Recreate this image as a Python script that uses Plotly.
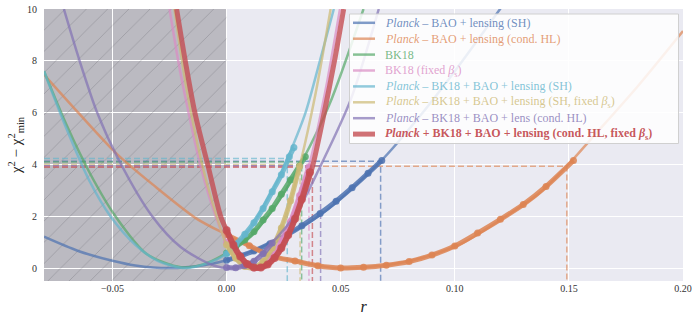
import plotly.graph_objects as go

# ---------------- axes / ticks ----------------
X_RANGE = [-0.08, 0.20]
Y_RANGE = [-0.5, 10.0]
excluded_r = [-0.08, 0.0]

x_tickvals = [-0.05, 0.0, 0.05, 0.10, 0.15, 0.20]
x_ticktext = ["\u22120.05", "0.00", "0.05", "0.10", "0.15", "0.20"]
y_tickvals = [0, 2, 4, 6, 8, 10]
y_ticktext = ["0", "2", "4", "6", "8", "10"]

# ---------------- series labels / colours ----------------
labels = [
    "<i>Planck</i> \u2013 BAO + lensing (SH)",
    "<i>Planck</i> \u2013 BAO + lensing (cond. HL)",
    "BK18",
    "BK18 (fixed <i>\u03b2</i><sub>s</sub>)",
    "<i>Planck</i> \u2013 BK18 + BAO + lensing (SH)",
    "<i>Planck</i> \u2013 BK18 + BAO + lensing (SH, fixed <i>\u03b2</i><sub>s</sub>)",
    "<i>Planck</i> \u2013 BK18 + BAO + lens (cond. HL)",
    "<b><i>Planck</i> + BK18 + BAO + lensing (cond. HL, fixed <i>\u03b2</i><sub>s</sub>)</b>",
]
colors = ["#4C72B0", "#DD8452", "#55A868", "#DA8BC3",
          "#64B5CD", "#CCB974", "#8172B3", "#C44E52"]

# ---------------- profile curves (r, delta chi2) ----------------
blue_r = [-0.08, -0.065, -0.05, -0.04, -0.025, -0.01, 0.0, 0.0193, 0.0412, 0.0675, 0.085, 0.10, 0.1215]
blue_d = [1.21, 0.66, 0.28, 0.10, 0.0, 0.11, 0.30, 0.97, 2.06, 4.12, 5.9, 7.6, 10.2]
orange_r = [-0.08, -0.065, -0.048, -0.032, -0.013, 0.0, 0.0105, 0.0178, 0.0325, 0.048, 0.0675,
            0.0855, 0.1035, 0.1224, 0.1371, 0.1491, 0.1596, 0.18, 0.20]
orange_d = [7.47, 6.0, 4.4, 3.2, 1.9, 1.29, 0.84, 0.51, 0.23, 0.0, 0.09,
            0.39, 0.97, 2.0, 2.9, 3.93, 4.97, 7.0, 9.15]
green_r = [-0.08, -0.07, -0.06, -0.0487, -0.035, -0.02, -0.01, 0.0, 0.0107, 0.0222, 0.0329, 0.045, 0.06]
green_d = [7.6, 5.5, 3.68, 2.0, 0.54, 0.03, 0.15, 0.58, 1.25, 2.5, 4.09, 6.3, 10.0]
pink_r = [-0.025, -0.0212, -0.0188, -0.0113, -0.0048, 0.0, 0.006, 0.0115, 0.018, 0.025, 0.0361, 0.043, 0.0497]
pink_d = [10.0, 8.0, 6.9, 3.9, 2.0, 1.0, 0.23, 0.0, 0.28, 1.2, 3.95, 6.7, 10.0]
cyan_r = [-0.08, -0.07, -0.06, -0.0509, -0.04, -0.03, -0.018, -0.008, 0.0, 0.0105, 0.0178,
          0.0228, 0.028, 0.0346, 0.0409, 0.047]
cyan_d = [7.6, 5.35, 3.35, 2.0, 0.9, 0.27, 0.0, 0.2, 0.55, 1.55, 2.64,
          3.45, 4.5, 6.0, 8.0, 10.0]
khaki_r = [-0.023, -0.0177, -0.011, -0.0075, 0.0, 0.005, 0.0105, 0.016, 0.022, 0.027, 0.0322, 0.039, 0.0456]
khaki_d = [10.1, 7.0, 4.1, 2.92, 0.9, 0.27, 0.0, 0.26, 1.12, 2.31, 4.0, 6.74, 10.0]
purple_r = [-0.0713, -0.0644, -0.0567, -0.0474, -0.0326, -0.02, -0.0057, 0.002, 0.01, 0.0184,
            0.03, 0.0412, 0.0544, 0.0667]
purple_d = [10.0, 8.0, 6.0, 4.2, 2.0, 0.8, 0.1, 0.0, 0.18, 0.84,
            2.04, 3.95, 6.5, 10.0]
red_r = [-0.0219, -0.0181, -0.0139, -0.008, -0.0026, 0.0, 0.005, 0.0095, 0.0135, 0.018,
         0.023, 0.028, 0.0325, 0.0376, 0.0428, 0.0473, 0.0513]
red_d = [10.0, 8.0, 6.0, 3.9, 2.0, 1.46, 0.58, 0.13, 0.0, 0.14,
         0.63, 1.47, 2.5, 3.9, 6.0, 8.0, 10.0]

# ---------------- sampled points (r >= 0) ----------------
blue_dot_r = [0.0, 0.006, 0.012, 0.019, 0.026, 0.033, 0.041, 0.048, 0.055, 0.062, 0.068]
blue_dot_d = [0.30, 0.47, 0.66, 0.94, 1.26, 1.63, 2.11, 2.58, 3.10, 3.66, 4.15]
orange_dot_r = [0.0, 0.01, 0.02, 0.03, 0.04, 0.05, 0.06, 0.07, 0.08, 0.09, 0.10, 0.11, 0.12, 0.13, 0.14, 0.152]
orange_dot_d = [1.29, 0.86, 0.45, 0.27, 0.09, 0.0, 0.03, 0.11, 0.25, 0.5, 0.85, 1.35, 1.88, 2.45, 3.15, 4.15]
green_dot_r = [0.0, 0.004, 0.008, 0.012, 0.016, 0.02, 0.024, 0.028, 0.032, 0.0345]
green_dot_d = [0.58, 0.82, 1.08, 1.4, 1.85, 2.3, 2.85, 3.4, 3.95, 4.3]
pink_dot_r = [0.0, 0.004, 0.008, 0.012, 0.016, 0.02, 0.024, 0.028, 0.032, 0.036]
pink_dot_d = [1.0, 0.42, 0.09, 0.0, 0.13, 0.48, 1.06, 1.8, 2.8, 3.9]
cyan_dot_r = [0.0, 0.004, 0.008, 0.012, 0.016, 0.02, 0.024, 0.0275, 0.0295]
cyan_dot_d = [0.55, 0.92, 1.3, 1.75, 2.3, 2.95, 3.6, 4.3, 4.65]
khaki_dot_r = [0.0, 0.004, 0.008, 0.012, 0.016, 0.02, 0.024, 0.028, 0.032]
khaki_dot_d = [0.9, 0.38, 0.06, 0.02, 0.26, 0.77, 1.55, 2.6, 3.93]
purple_dot_r = [0.0, 0.004, 0.008, 0.012, 0.016, 0.02]
purple_dot_d = [0.02, 0.01, 0.1, 0.26, 0.55, 0.97]
red_dot_r = [0.0, 0.003, 0.006, 0.009, 0.012, 0.015, 0.018, 0.021, 0.024, 0.027, 0.030, 0.033, 0.0365]
red_dot_d = [1.46, 0.89, 0.45, 0.16, 0.02, 0.02, 0.14, 0.39, 0.77, 1.28, 1.9, 2.66, 3.7]

# ---------------- 95% upper limits ----------------
limit_r = [0.0675, 0.1491, 0.0329, 0.0361, 0.0266, 0.0322, 0.0412, 0.0376]
limit_d = [4.12, 3.93, 4.09, 3.95, 4.23, 4.00, 3.95, 3.89]

curves = [(blue_r, blue_d), (orange_r, orange_d), (green_r, green_d), (pink_r, pink_d),
          (cyan_r, cyan_d), (khaki_r, khaki_d), (purple_r, purple_d), (red_r, red_d)]
dots = [(blue_dot_r, blue_dot_d), (orange_dot_r, orange_dot_d), (green_dot_r, green_dot_d),
        (pink_dot_r, pink_dot_d), (cyan_dot_r, cyan_dot_d), (khaki_dot_r, khaki_dot_d),
        (purple_dot_r, purple_dot_d), (red_dot_r, red_dot_d)]


def rgba(hexc, a):
    h = hexc.lstrip("#")
    return "rgba(%d,%d,%d,%.2f)" % (int(h[0:2], 16), int(h[2:4], 16), int(h[4:6], 16), a)


FONT = "Liberation Serif, DejaVu Serif, serif"
fig = go.Figure()

# hatched excluded region (r < 0)
fig.add_trace(go.Scatter(
    x=[excluded_r[0], excluded_r[1], excluded_r[1], excluded_r[0], excluded_r[0]],
    y=[Y_RANGE[0], Y_RANGE[0], Y_RANGE[1], Y_RANGE[1], Y_RANGE[0]],
    mode="lines", fill="toself", fillcolor="rgba(0,0,0,0)",
    fillpattern=dict(shape="/", fgcolor="rgba(70,70,80,0.5)", bgcolor="rgba(0,0,0,0)",
                     size=15, solidity=0.06),
    line=dict(width=0), hoverinfo="skip", showlegend=False))

# dashed limit lines
for i in range(len(labels)):
    fig.add_trace(go.Scatter(
        x=[X_RANGE[0], limit_r[i], limit_r[i]],
        y=[limit_d[i], limit_d[i], Y_RANGE[0]],
        mode="lines", line=dict(color=rgba(colors[i], 0.65), width=1.5, dash="6px,3px"),
        hoverinfo="skip", showlegend=False))

# curves + sampled points
for i in range(len(labels)):
    lw = 5 if i == 7 else 2.5
    op = 0.8 if i == 7 else 0.7
    fig.add_trace(go.Scatter(
        x=curves[i][0], y=curves[i][1], mode="lines", line_shape="spline",
        line=dict(color=rgba(colors[i], op), width=lw, smoothing=0.8),
        hoverinfo="skip", showlegend=False))
    fig.add_trace(go.Scatter(
        x=dots[i][0], y=dots[i][1], mode="lines+markers", line_shape="spline",
        line=dict(color=rgba(colors[i], 0.85), width=5 if i != 7 else 6, smoothing=0.8),
        marker=dict(color=rgba(colors[i], 0.85), size=7 if i != 7 else 8),
        hoverinfo="skip", showlegend=False))

# ---------------- manual legend ----------------
L, R, T, B = 44, 15, 9, 40
W, H = 698, 321
pw, ph = W - L - R, H - T - B


def px2x(px):
    return (px - L) / pw


def py2y(py):
    return (H - B - py) / ph


shapes = [
    dict(type="rect", xref="x", yref="y", x0=excluded_r[0], x1=excluded_r[1],
         y0=Y_RANGE[0], y1=Y_RANGE[1], fillcolor="#bbbac1", line=dict(width=0), layer="below"),
    dict(type="rect", xref="paper", yref="paper", x0=px2x(349.5), x1=px2x(678.5),
         y0=py2y(143.5), y1=py2y(14), fillcolor="rgba(255,255,255,0.85)",
         line=dict(color="#d0d0d0", width=1), layer="above"),
]
annotations = []
for i in range(len(labels)):
    yc = 22.8 + i * 15.9
    shapes.append(dict(type="line", xref="paper", yref="paper", x0=px2x(353), x1=px2x(375),
                       y0=py2y(yc), y1=py2y(yc),
                       line=dict(color=rgba(colors[i], 0.8 if i == 7 else 0.7),
                                 width=5 if i == 7 else 2.5), layer="above"))
    annotations.append(dict(xref="paper", yref="paper", x=px2x(383), y=py2y(yc),
                            xanchor="left", yanchor="middle", showarrow=False,
                            text=labels[i],
                            font=dict(family=FONT, size=12,
                                      color=rgba(colors[i], 0.95 if i == 7 else 0.8))))

fig.update_layout(
    width=W, height=H, margin=dict(l=L, r=R, t=T, b=B, autoexpand=False),
    paper_bgcolor="white", plot_bgcolor="#EAEAF2",
    shapes=shapes, annotations=annotations, showlegend=False,
    font=dict(family=FONT, color="#333333"),
)
fig.update_xaxes(range=X_RANGE, tickvals=x_tickvals, ticktext=x_ticktext, automargin=False,
                 ticklabeloverflow="allow",
                 showgrid=True, gridcolor="white", gridwidth=1.2, zeroline=False,
                 showline=False, ticks="", tickfont=dict(family=FONT, size=10, color="#333333"),
                 title=dict(text="<i>r</i>", font=dict(family=FONT, size=16, color="#222222"),
                            standoff=7))
fig.update_yaxes(range=Y_RANGE, tickvals=y_tickvals, ticktext=y_ticktext, automargin=False,
                 ticklabeloverflow="allow",
                 showgrid=True, gridcolor="white", gridwidth=1.2, zeroline=False,
                 showline=False, ticks="", ticklabelstandoff=6,
                 tickfont=dict(family=FONT, size=10, color="#333333"),
                 title=dict(text="\u03c7<sup>2</sup> \u2212 \u03c7<sup>2</sup><sub>min</sub>",
                            font=dict(family=FONT, size=15, color="#222222"), standoff=1))

fig.write_html("out.html", config={"displayModeBar": False},
               post_script="document.body.style.margin='0px';")
